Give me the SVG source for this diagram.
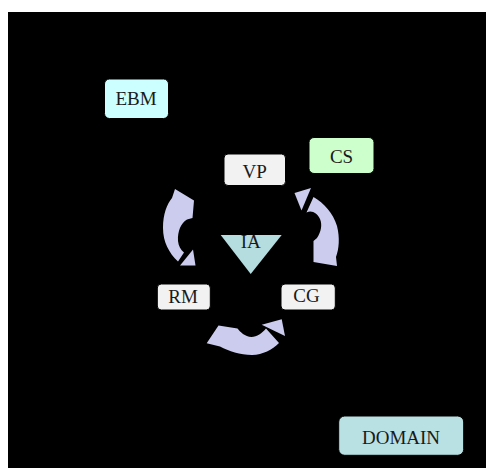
<svg xmlns="http://www.w3.org/2000/svg" width="486" height="468" viewBox="0 0 486 468">
<style>
.bx{stroke:#000;stroke-width:1}
.t{font-family:"Liberation Serif","DejaVu Serif",serif;font-size:19px;fill:#1a1a1a;text-anchor:middle}
.ar{fill:#ccccee}
</style>
<rect x="0" y="0" width="486" height="468" fill="#fff"/>
<rect x="8" y="12" width="478" height="456" fill="#000"/>
<g id="connectors">
<path class="ar" d="M175,189 L194,200.5 L192.5,218 L187,219.5 C181,223 177.5,231 178,241 C178.5,246 180.5,249.5 184,252.5 L178,261.5 C169,253 163,242 163,228 C163,214 167,204 172,198 Z"/>
<path class="ar" d="M180,265.5 L195.5,265.5 L193,249.5 Z"/>
<path class="ar" d="M313.5,197 C324,203 333,213 337,226 C340,238 339,249 336,257 L337,266 L313.5,262 L313.5,241 L317,238 C321,232 322.5,225 320,219 C317,213 312,210 306.5,212.5 Z"/>
<path class="ar" d="M294.5,193 L311,188 L301.5,210.5 Z"/>
<path class="ar" d="M206.7,343.3 L218.5,325.5 L237.5,328.5 C240,332 245,336.5 251.5,337 C257,337 262,333 266,328.5 L279,343 C272,350 263,354.5 252,355 C240,355 229,351 220,346.5 Z"/>
<path class="ar" d="M261.7,324.7 L281.7,319.3 L285,336 Z"/>
</g>
<g id="EBM"><rect class="bx" x="104.5" y="79" width="64" height="39.5" rx="5" fill="#ccffff"/><text class="t" x="136" y="105">EBM</text></g>
<g id="CS"><rect class="bx" x="309" y="137.5" width="65" height="36" rx="5" fill="#ccffcc"/><text class="t" x="341.5" y="162.5">CS</text></g>
<g id="VP"><rect class="bx" x="224" y="154" width="61.5" height="31.5" rx="4" fill="#f2f2f2"/><text class="t" x="254.7" y="178.3">VP</text></g>
<g id="RM"><rect class="bx" x="157.3" y="284" width="53" height="26" rx="4" fill="#f2f2f2"/><text class="t" x="183" y="303.3">RM</text></g>
<g id="CG"><rect class="bx" x="281" y="284" width="54.3" height="26" rx="4" fill="#f2f2f2"/><text class="t" x="306.5" y="301.5">CG</text></g>
<g id="IA"><path d="M220.7,235 L281.7,235 L250.7,274 Z" fill="#b5dcdf"/><text class="t" x="250.7" y="248.3">IA</text></g>
<g id="DOMAIN"><rect class="bx" x="338.7" y="416" width="125" height="39.3" rx="6" fill="#b9e0e3"/><text class="t" x="401" y="444">DOMAIN</text></g>
</svg>
